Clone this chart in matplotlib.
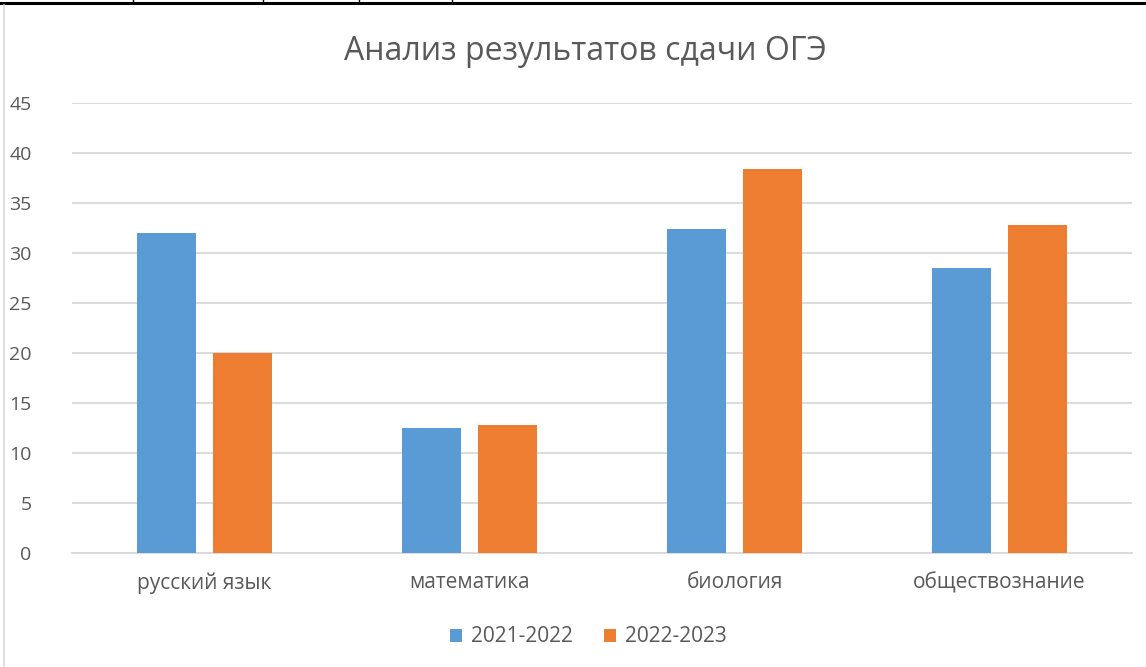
import matplotlib
matplotlib.use("Agg")
import matplotlib.pyplot as plt
import numpy as np
from matplotlib.lines import Line2D

subjects = ["русский язык", "математика", "биология", "обществознание"]
y2122 = [32.0, 12.5, 32.4, 28.5]
y2223 = [20.0, 12.8, 38.4, 32.8]
labels = ["2021-2022", "2022-2023"]

plt.rcParams['font.family'] = ['Open Sans', 'DejaVu Sans']
txt = '#595959'

fig = plt.figure(figsize=(11.46, 6.67), dpi=100)
ax = fig.add_axes([72/1146, 1-553/667, 1060/1146, 450/667])

x = np.arange(len(subjects))
w = 0.223
ax.bar(x - 0.144, y2122, w, color='#5B9BD5', label=labels[0], zorder=3)
ax.bar(x + 0.144, y2223, w, color='#ED7D31', label=labels[1], zorder=3)

ax.set_xlim(-0.5, 3.5)
ax.set_ylim(0, 45)
ax.set_yticks(range(0, 46, 5))
ax.yaxis.grid(True, color='#D9D9D9', linewidth=1.3, zorder=0)
ax.set_xticks(x)
ax.set_xticklabels(subjects, fontsize=15)
ax.tick_params(axis='both', length=0, labelcolor=txt)
ax.tick_params(axis='y', labelsize=14, pad=29)
ax.tick_params(axis='x', pad=14)
for s in ['top', 'right', 'left']:
    ax.spines[s].set_visible(False)
ax.spines['bottom'].set_color('#D9D9D9')
ax.spines['bottom'].set_linewidth(1.3)

fig.text(585/1146, 1-52/667, "Анализ результатов сдачи ОГЭ", ha='center', va='center',
         fontsize=23, color=txt)

fig.legend(loc='center', bbox_to_anchor=(588/1146, 1-637/667), ncol=2, frameon=False,
           fontsize=15, labelcolor=txt, handlelength=0.6, handleheight=0.6,
           handletextpad=0.4, columnspacing=1.5)

# border bits from the surrounding document table
fig.add_artist(Line2D([0, 1], [1-3/667, 1-3/667], color='black', linewidth=2.2))
for px in [133, 263, 359, 452]:
    fig.add_artist(Line2D([px/1146, px/1146], [1, 1-3/667], color='black', linewidth=1))
fig.add_artist(Line2D([3.5/1146, 3.5/1146], [0, 1-5/667], color='#D9D9D9', linewidth=1.2))

fig.savefig("out.png", dpi=100)
